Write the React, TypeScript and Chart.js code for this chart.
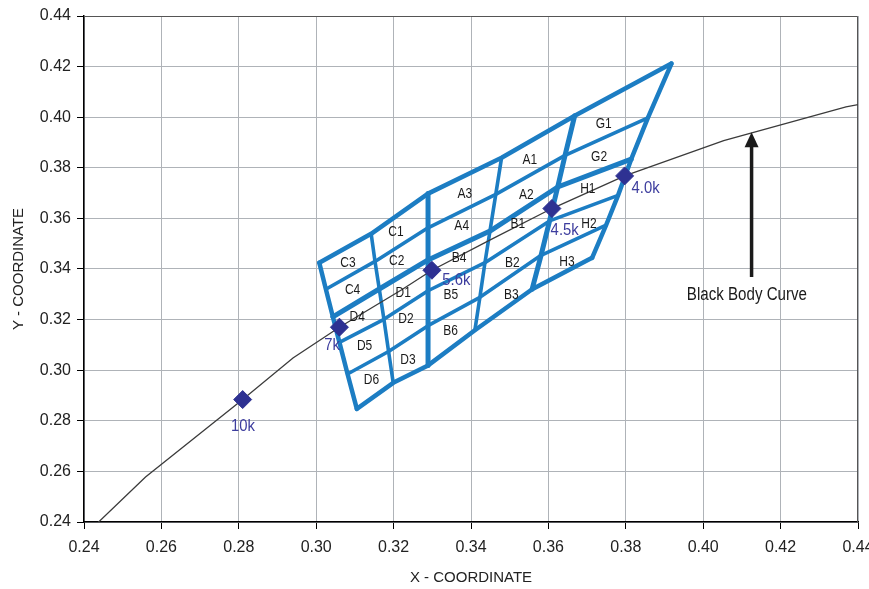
import { useEffect, useRef } from 'react';
import { Chart, registerables } from 'chart.js';

Chart.register(...registerables);

const FONT = '"Liberation Sans", Arial, sans-serif';

// Black body (Planckian) curve
const bbX = [0.2399, 0.2559, 0.2810, 0.2940, 0.3060, 0.3221, 0.3299, 0.3451, 0.3609, 0.3797, 0.4053, 0.4369, 0.4599];
const bbY = [0.2343, 0.2578, 0.2884, 0.3048, 0.3170, 0.3318, 0.3395, 0.3516, 0.3639, 0.3768, 0.3907, 0.4041, 0.4106];

// Colour temperature markers
const tempX = [0.2810, 0.3060, 0.3299, 0.3609, 0.3797];
const tempY = [0.2884, 0.3170, 0.3395, 0.3639, 0.3768];
const tempLabels = ['10k', '7k', '5.6k', '4.5k', '4.0k'];
const tempLabelX = [0.2811, 0.3041, 0.3362, 0.3642, 0.3851];
const tempLabelY = [0.2778, 0.3098, 0.3355, 0.3553, 0.3718];

// Bin grid vertices, one row line each (left to right)
const gridRow0 = [[0.3008, 0.3425], [0.3142, 0.3539], [0.3289, 0.3698], [0.3479, 0.3840], [0.3668, 0.4006], [0.3918, 0.4212]];
const gridRow1 = [[0.3025, 0.3320], [0.3152, 0.3430], [0.3289, 0.3563], [0.3464, 0.3695], [0.3643, 0.3849], [0.3857, 0.3997]];
const gridRow2 = [[0.3043, 0.3211], [0.3163, 0.3321], [0.3289, 0.3436], [0.3449, 0.3550], [0.3624, 0.3724], [0.3814, 0.3834]];
const gridRow3 = [[0.3060, 0.3110], [0.3175, 0.3201], [0.3289, 0.3314], [0.3436, 0.3425], [0.3603, 0.3590], [0.3780, 0.3691]];
const gridRow4 = [[0.3081, 0.2985], [0.3187, 0.3074], [0.3289, 0.3176], [0.3423, 0.3288], [0.3581, 0.3454], [0.3749, 0.3573]];
const gridRow5 = [[0.3105, 0.2847], [0.3199, 0.2950], [0.3289, 0.3019], [0.3410, 0.3158], [0.3558, 0.3320], [0.3713, 0.3444]];
const gridRows = [gridRow0, gridRow1, gridRow2, gridRow3, gridRow4, gridRow5];
const thickRows = [2];
const thickCols = [2, 4];

// Bin labels
const binNames = ['C3', 'C4', 'D4', 'D5', 'D6', 'C1', 'C2', 'D1', 'D2', 'D3', 'A3', 'A4', 'B4', 'B5', 'B6', 'A1', 'A2', 'B1', 'B2', 'B3', 'G1', 'G2', 'H1', 'H2', 'H3'];
const binLabelX = [0.3082, 0.3094, 0.3106, 0.3125, 0.3143, 0.3206, 0.3208, 0.3225, 0.3232, 0.3237, 0.3384, 0.3376, 0.3369, 0.3348, 0.3347, 0.3552, 0.3543, 0.3521, 0.3507, 0.3504, 0.3743, 0.3731, 0.3702, 0.3705, 0.3648];
const binLabelY = [0.3424, 0.3316, 0.3210, 0.3096, 0.2963, 0.3546, 0.3431, 0.3307, 0.3202, 0.3039, 0.3698, 0.3569, 0.3446, 0.3296, 0.3155, 0.3832, 0.3694, 0.3577, 0.3424, 0.3296, 0.3975, 0.3843, 0.3715, 0.3579, 0.3428];

// Callout
const calloutText = 'Black Body Curve';
const calloutX = 0.4113;
const calloutY = 0.3299;
const arrowX = 0.4125;
const arrowTipY = 0.3941;
const arrowTailY = 0.3368;

const BLUE = '#1c7dc3';

function narrowText(ctx: CanvasRenderingContext2D, text: string, x: number, y: number, sx: number) {
  ctx.save();
  ctx.translate(x, y);
  ctx.scale(sx, 1);
  ctx.fillText(text, 0, 0);
  ctx.restore();
}

export default function App() {
  const ref = useRef<HTMLCanvasElement | null>(null);

  useEffect(() => {
    const canvas = ref.current;
    if (!canvas) return;

    const datasets: any[] = [];
    datasets.push({
      label: 'temps',
      data: tempX.map((x, i) => ({ x, y: tempY[i] })),
      showLine: false,
      pointStyle: 'rectRot',
      pointRadius: 9,
      pointBackgroundColor: '#2e3192',
      pointBorderColor: '#2e3192',
      pointBorderWidth: 1,
      order: 0,
    });
    datasets.push({
      label: 'bb',
      data: bbX.map((x, i) => ({ x, y: bbY[i] })),
      showLine: true,
      borderColor: '#3b3b3b',
      borderWidth: 1.3,
      pointRadius: 0,
      clip: 0,
      order: 1,
    });
    gridRows.forEach((row, r) => {
      const outer = r === 0 || r === gridRows.length - 1;
      datasets.push({
        label: 'row' + r,
        data: row.map((p) => ({ x: p[0], y: p[1] })),
        showLine: true,
        borderColor: BLUE,
        borderWidth: thickRows.includes(r) ? 5 : outer ? 4.5 : 3.6,
        borderCapStyle: 'round',
        borderJoinStyle: 'round',
        pointRadius: 0,
        order: 2,
      });
    });
    for (let c = 0; c < gridRow0.length; c++) {
      const outer = c === 0 || c === gridRow0.length - 1;
      datasets.push({
        label: 'col' + c,
        data: gridRows.map((row) => ({ x: row[c][0], y: row[c][1] })),
        showLine: true,
        borderColor: BLUE,
        borderWidth: thickCols.includes(c) ? 5 : outer ? 4.5 : 3.6,
        borderCapStyle: 'round',
        borderJoinStyle: 'round',
        pointRadius: 0,
        order: 2,
      });
    }

    const annot = {
      id: 'annot',
      beforeDatasetsDraw(chart: any) {
        const { ctx, chartArea: a } = chart;
        ctx.save();
        ctx.strokeStyle = '#555';
        ctx.lineWidth = 1;
        ctx.beginPath();
        ctx.moveTo(a.left, a.top + 0.5);
        ctx.lineTo(a.right - 0.5, a.top + 0.5);
        ctx.lineTo(a.right - 0.5, a.bottom);
        ctx.stroke();
        ctx.restore();
      },
      afterDatasetsDraw(chart: any) {
        const { ctx } = chart;
        const xs = chart.scales.x;
        const ys = chart.scales.y;
        ctx.save();
        ctx.textAlign = 'center';
        ctx.textBaseline = 'middle';
        ctx.fillStyle = '#1a1a1a';
        ctx.font = `15px ${FONT}`;
        binNames.forEach((n, i) => {
          narrowText(ctx, n, xs.getPixelForValue(binLabelX[i]), ys.getPixelForValue(binLabelY[i]), 0.8);
        });
        ctx.fillStyle = '#3d3d9e';
        ctx.font = `16.5px ${FONT}`;
        tempLabels.forEach((n, i) => {
          narrowText(ctx, n, xs.getPixelForValue(tempLabelX[i]), ys.getPixelForValue(tempLabelY[i]), 0.9);
        });
        // arrow
        const ax = xs.getPixelForValue(arrowX);
        const tip = ys.getPixelForValue(arrowTipY);
        const tail = ys.getPixelForValue(arrowTailY);
        ctx.strokeStyle = '#1a1a1a';
        ctx.fillStyle = '#1a1a1a';
        ctx.lineWidth = 3.5;
        ctx.beginPath();
        ctx.moveTo(ax, tail);
        ctx.lineTo(ax, tip + 12);
        ctx.stroke();
        ctx.beginPath();
        ctx.moveTo(ax, tip);
        ctx.lineTo(ax - 7, tip + 15);
        ctx.lineTo(ax + 7, tip + 15);
        ctx.closePath();
        ctx.fill();
        ctx.fillStyle = '#1a1a1a';
        ctx.font = `18px ${FONT}`;
        narrowText(ctx, calloutText, xs.getPixelForValue(calloutX), ys.getPixelForValue(calloutY), 0.84);
        ctx.restore();
      },
    };

    const chart = new Chart(canvas, {
      type: 'scatter',
      data: { datasets },
      plugins: [annot],
      options: {
        animation: false,
        responsive: false,
        events: [],
        layout: { padding: { top: 16, right: 11, left: 0, bottom: 0 } },
        plugins: { legend: { display: false }, tooltip: { enabled: false } },
        scales: {
          x: {
            type: 'linear',
            min: 0.24,
            max: 0.44,
            ticks: {
              stepSize: 0.02,
              callback: (v: any) => Number(v).toFixed(2),
              font: { family: FONT, size: 16 },
              color: '#222',
              padding: 9,
              maxRotation: 0,
              autoSkip: false,
            },
            grid: { color: '#afb3b8', lineWidth: 1, tickLength: 7, tickColor: '#000' },
            border: { color: '#000', width: 1.5 },
            title: {
              display: true,
              text: 'X - COORDINATE',
              font: { family: FONT, size: 15 },
              color: '#222',
              padding: { top: 0, bottom: 2 },
            },
            afterFit: (s: any) => {
              s.height = 67;
              s.paddingLeft = 0;
              s.paddingRight = 0;
            },
          },
          y: {
            type: 'linear',
            min: 0.24,
            max: 0.44,
            ticks: {
              stepSize: 0.02,
              callback: (v: any) => Number(v).toFixed(2),
              font: { family: FONT, size: 16 },
              color: '#222',
              padding: 6,
              autoSkip: false,
            },
            grid: { color: '#afb3b8', lineWidth: 1, tickLength: 7, tickColor: '#000' },
            border: { color: '#000', width: 1.5 },
            title: {
              display: true,
              text: 'Y - COORDINATE',
              font: { family: FONT, size: 15 },
              color: '#222',
              padding: { top: 10, bottom: 0 },
            },
            afterFit: (s: any) => {
              s.width = 84;
              s.paddingTop = 0;
              s.paddingBottom = 0;
            },
          },
        },
      },
    });
    return () => chart.destroy();
  }, []);

  return (
    <div style={{ position: 'absolute', left: 0, top: 0, width: 869, height: 589, background: '#fff' }}>
      <canvas ref={ref} width={869} height={589} style={{ width: 869, height: 589, display: 'block' }} />
    </div>
  );
}
